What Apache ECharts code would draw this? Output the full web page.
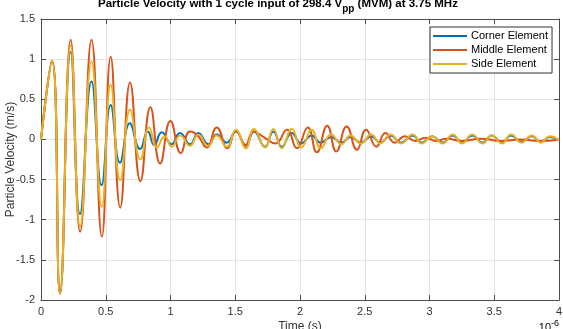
<!DOCTYPE html>
<html>
<head>
<meta charset="utf-8">
<script src="https://cdn.jsdelivr.net/npm/echarts@6/dist/echarts.min.js"></script>
<style>
  html, body { margin: 0; padding: 0; background: #fff; }
  #chart { width: 563px; height: 329px; }
</style>
</head>
<body>
<div id="chart"></div>
<script>
// time in units of 1e-6 s, velocity in m/s (peaks and troughs)
var seriesNames = ['Corner Element', 'Middle Element', 'Side Element'];
var seriesColors = ['#0072BD', '#D95319', '#EDB120'];
var xTicks = [0, 0.5, 1, 1.5, 2, 2.5, 3, 3.5, 4];
var yTicks = [-2, -1.5, -1, -0.5, 0, 0.5, 1, 1.5];

var cornerPts = [
  [0, 0], [0.085, 0.98], [0.147, -1.92], [0.229, 1.09], [0.301, -0.93],
  [0.39, 0.72], [0.468, -0.57], [0.538, 0.43], [0.61, -0.29], [0.686, 0.20],
  [0.765, -0.12], [0.825, 0.10], [0.875, -0.07], [0.932, 0.09], [1.009, -0.06],
  [1.073, 0.08], [1.151, -0.06], [1.215, 0.08], [1.292, -0.06], [1.357, 0.06],
  [1.434, -0.04], [1.506, 0.10], [1.581, -0.08], [1.645, 0.10], [1.73, -0.09],
  [1.794, 0.10], [1.859, -0.09], [1.936, 0.08], [2.01, -0.05], [2.09, 0.05],
  [2.16, -0.04], [2.24, 0.03], [2.32, -0.04], [2.39, 0.03], [2.47, -0.04],
  [2.55, 0.04], [2.62, -0.04], [2.70, 0.05], [2.78, -0.04], [2.87, 0.05],
  [2.94, -0.04], [3.02, 0.04], [3.10, -0.04], [3.18, 0.05], [3.25, -0.04],
  [3.33, 0.05], [3.41, -0.04], [3.48, 0.05], [3.56, -0.04], [3.63, 0.05],
  [3.71, -0.03], [3.79, 0.04], [3.86, -0.03], [3.93, 0.03], [4.0, -0.01]
];

var middlePts = [
  [0, 0], [0.085, 0.98], [0.147, -1.92], [0.229, 1.24], [0.302, -1.15],
  [0.39, 1.24], [0.47, -1.21], [0.538, 1.03], [0.612, -0.85], [0.688, 0.71],
  [0.768, -0.52], [0.845, 0.40], [0.92, -0.30], [1.0, 0.23], [1.08, -0.17],
  [1.15, 0.10], [1.21, 0.05], [1.28, -0.10], [1.357, 0.15], [1.44, -0.11],
  [1.506, 0.11], [1.58, -0.07], [1.64, 0.10], [1.72, 0.03], [1.81, -0.05],
  [1.90, 0.12], [1.975, -0.11], [2.06, 0.15], [2.13, -0.16], [2.21, 0.17],
  [2.28, -0.15], [2.36, 0.16], [2.44, -0.13], [2.51, 0.12], [2.59, -0.09],
  [2.66, 0.08], [2.73, -0.04], [2.81, 0.04], [2.89, -0.02], [2.97, 0.02],
  [3.05, -0.02], [3.13, 0.01], [3.25, -0.02], [3.40, 0.01], [3.55, -0.02],
  [3.70, 0.00], [3.85, -0.02], [4.0, 0.00]
];

var sidePts = [
  [0, 0], [0.085, 0.98], [0.147, -1.92], [0.229, 1.17], [0.302, -1.08],
  [0.39, 0.97], [0.47, -0.84], [0.538, 0.68], [0.612, -0.51], [0.688, 0.37],
  [0.768, -0.25], [0.835, 0.15], [0.895, -0.10], [0.955, 0.04], [1.01, -0.09],
  [1.075, 0.05], [1.15, -0.08], [1.215, 0.06], [1.29, -0.08], [1.357, 0.05],
  [1.434, -0.09], [1.506, 0.12], [1.581, -0.11], [1.645, 0.13], [1.73, -0.10],
  [1.794, 0.13], [1.859, -0.11], [1.936, 0.13], [2.01, -0.10], [2.09, 0.12],
  [2.16, -0.11], [2.24, 0.06], [2.32, -0.06], [2.39, 0.05], [2.47, -0.05],
  [2.55, 0.06], [2.62, -0.05], [2.70, 0.06], [2.78, -0.05], [2.87, 0.06],
  [2.94, -0.05], [3.02, 0.04], [3.10, -0.05], [3.18, 0.06], [3.25, -0.05],
  [3.33, 0.06], [3.41, -0.05], [3.48, 0.05], [3.56, -0.05], [3.63, 0.06],
  [3.71, -0.04], [3.79, 0.05], [3.86, -0.04], [3.93, 0.04], [4.0, -0.01]
];

var allPts = [cornerPts, middlePts, sidePts];

var font = "'Liberation Sans', Arial, Helvetica, sans-serif";
var axisGray = '#4d4d4d';

var chart = echarts.init(document.getElementById('chart'), null, { renderer: 'canvas' });

var series = [];
for (var i = 0; i < allPts.length; i++) {
  series.push({
    name: seriesNames[i],
    type: 'line',
    data: allPts[i],
    showSymbol: false,
    symbol: 'none',
    smooth: 0.5,
    lineStyle: { color: seriesColors[i], width: 2 },
    itemStyle: { color: seriesColors[i] },
    xAxisIndex: 0,
    yAxisIndex: 0,
    z: 2 + i,
    animation: false
  });
}

var option = {
  backgroundColor: '#fff',
  animation: false,
  title: {
    text: '{a|Particle Velocity with 1 cycle input of 298.4 V}{s|pp}{a| (MVM) at 3.75 MHz}',
    left: 98,
    top: -2,
    padding: 0,
    textStyle: {
      rich: {
        a: { fontFamily: font, fontSize: 11.5, fontWeight: 'bold', color: '#000', lineHeight: 12, verticalAlign: 'top' },
        s: { fontFamily: font, fontSize: 10, fontWeight: 'bold', color: '#000', lineHeight: 12, verticalAlign: 'top', padding: [6, 0, 0, 0] }
      }
    }
  },
  legend: {
    orient: 'vertical',
    left: 430,
    top: 27,
    data: seriesNames,
    icon: 'rect',
    itemWidth: 34,
    itemHeight: 2,
    itemGap: 0,
    padding: [2, 4, 2, 3],
    backgroundColor: '#fff',
    borderColor: '#333',
    borderWidth: 1,
    borderRadius: 0,
    textStyle: { fontFamily: font, fontSize: 11, color: '#000', lineHeight: 14, padding: [0, 0, 0, -1] }
  },
  grid: { left: 41, right: 4, top: 19, bottom: 29, containLabel: false, outerBoundsMode: 'none' },
  xAxis: [{
    type: 'value',
    min: xTicks[0],
    max: xTicks[xTicks.length - 1],
    interval: 0.5,
    axisLine: { show: true, onZero: false, lineStyle: { color: axisGray, width: 1 } },
    axisTick: { show: true, inside: true, length: 5, lineStyle: { color: axisGray } },
    axisLabel: { fontFamily: font, fontSize: 11, color: '#333', margin: 6 },
    splitLine: { show: true, lineStyle: { color: '#e3e3e3', width: 1 } },
    name: 'Time (s)',
    nameLocation: 'middle',
    nameGap: 21,
    nameMoveOverlap: false,
    nameTextStyle: { fontFamily: font, fontSize: 12, color: '#333' }
  }, {
    type: 'value',
    position: 'top',
    min: xTicks[0],
    max: xTicks[xTicks.length - 1],
    interval: 0.5,
    axisLine: { show: true, onZero: false, lineStyle: { color: axisGray, width: 1 } },
    axisTick: { show: true, inside: true, length: 5, lineStyle: { color: axisGray } },
    axisLabel: { show: false },
    splitLine: { show: false }
  }],
  yAxis: [{
    type: 'value',
    min: yTicks[0],
    max: yTicks[yTicks.length - 1],
    interval: 0.5,
    axisLine: { show: true, onZero: false, lineStyle: { color: axisGray, width: 1 } },
    axisTick: { show: true, inside: true, length: 5, lineStyle: { color: axisGray } },
    axisLabel: { fontFamily: font, fontSize: 11, color: '#333', margin: 6 },
    splitLine: { show: true, lineStyle: { color: '#e3e3e3', width: 1 } },
    name: 'Particle Velocity (m/s)',
    nameLocation: 'middle',
    nameGap: 24,
    nameMoveOverlap: false,
    nameRotate: 90,
    nameTextStyle: { fontFamily: font, fontSize: 12, color: '#333' }
  }, {
    type: 'value',
    position: 'right',
    min: yTicks[0],
    max: yTicks[yTicks.length - 1],
    interval: 0.5,
    axisLine: { show: true, onZero: false, lineStyle: { color: axisGray, width: 1 } },
    axisTick: { show: true, inside: true, length: 5, lineStyle: { color: axisGray } },
    axisLabel: { show: false },
    splitLine: { show: false }
  }],
  graphic: [{
    type: 'text',
    right: 4,
    bottom: -4,
    style: {
      text: '{b|10}{e|-6}',
      rich: {
        b: { fontFamily: font, fontSize: 11, color: '#333', verticalAlign: 'bottom' },
        e: { fontFamily: font, fontSize: 9, color: '#333', verticalAlign: 'bottom', padding: [0, 0, 5, 0] }
      }
    }
  }],
  series: series
};

chart.setOption(option);
</script>
</body>
</html>
